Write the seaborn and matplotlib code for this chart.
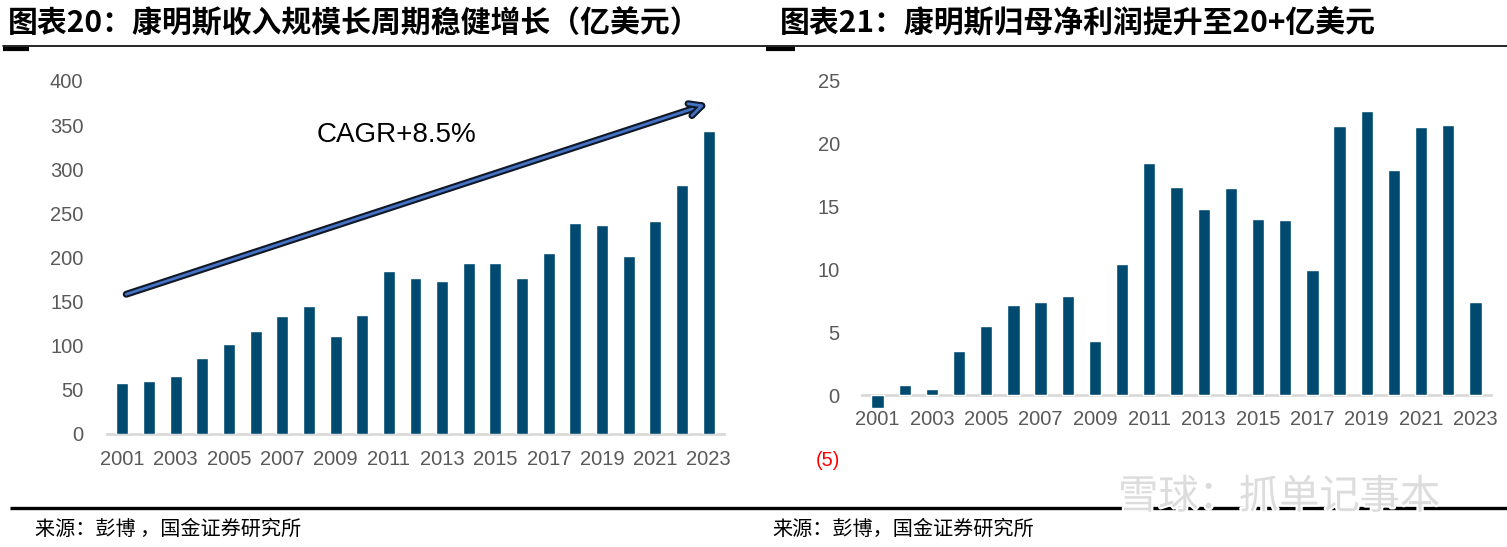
import matplotlib
matplotlib.use('Agg')
import matplotlib.pyplot as plt
import matplotlib.patheffects as pe
from matplotlib.lines import Line2D
from matplotlib.ticker import FixedLocator
import seaborn as sns
import pandas as pd

# ---------------- data ----------------
years = [str(y) for y in range(2001, 2024)]
revenue = [57, 60, 65, 86, 101, 116, 133, 145, 111, 135, 184, 176, 173,
           193, 193, 176, 205, 239, 237, 201, 241, 282, 343]
net_profit = [-1.0, 0.8, 0.5, 3.5, 5.5, 7.2, 7.4, 7.9, 4.3, 10.4, 18.5, 16.6,
              14.8, 16.5, 14.0, 13.9, 10.0, 21.4, 22.6, 17.9, 21.3, 21.5, 7.4]
left_yticks = [0, 50, 100, 150, 200, 250, 300, 350, 400]
right_yticks = [-5, 0, 5, 10, 15, 20, 25]
right_yticklabels = ['(5)', '0', '5', '10', '15', '20', '25']
title_left = '图表20：康明斯收入规模长周期稳健增长（亿美元）'
title_right = '图表21：康明斯归母净利润提升至20+亿美元'
source_left = '来源：彭博 ，国金证券研究所'
source_right = '来源：彭博，国金证券研究所'
cagr_text = 'CAGR+8.5%'
cagr_arrow = [(0.15, 158), (21.85, 373)]

df_rev = pd.DataFrame({'year': years, 'value': revenue})
df_np = pd.DataFrame({'year': years, 'value': net_profit})

# ---------------- style ----------------
sns.set_style('white')
plt.rcParams['font.family'] = ['Liberation Sans', 'Noto Sans CJK SC', 'DejaVu Sans']
CJK = ['Noto Sans CJK SC', 'DejaVu Sans']

BAR = '#004A70'
AXIS = '#D9D9D9'
TICKTXT = '#595959'

W, H = 1507, 547
fig = plt.figure(figsize=(W / 100, H / 100), dpi=100)


def fx(px):
    return px / W


def fy(py):
    return 1 - py / H


ax1 = fig.add_axes([fx(107), fy(433.5), fx(724) - fx(107), fy(81) - fy(433.5)])
ax2 = fig.add_axes([fx(862), fy(458), fx(1491) - fx(862), fy(81) - fy(458)])

sns.barplot(data=df_rev, x='year', y='value', ax=ax1, color=BAR,
            saturation=1, width=0.45, errorbar=None)
sns.barplot(data=df_np, x='year', y='value', ax=ax2, color=BAR,
            saturation=1, width=0.45, errorbar=None)

for ax in (ax1, ax2):
    ax.set_xlabel('')
    ax.set_ylabel('')
    for s in ('top', 'right', 'left'):
        ax.spines[s].set_visible(False)
    ax.spines['bottom'].set_color(AXIS)
    ax.spines['bottom'].set_linewidth(2.0)
    ax.spines['bottom'].set_zorder(0.5)
    n = len(years)
    ax.set_xlim(-0.57, n - 1 + 0.57)
    major = list(range(0, n, 2))
    ax.set_xticks(major, [years[i] for i in major])
    ax.xaxis.set_minor_locator(FixedLocator([i - 0.5 for i in range(n + 1)]))
    ax.tick_params(axis='x', which='major', length=0, labelsize=14.5,
                   labelcolor=TICKTXT)
    ax.tick_params(axis='x', which='minor', direction='in', length=5,
                   width=2.0, color=AXIS)
    ax.tick_params(axis='y', length=0, labelsize=14.5, labelcolor=TICKTXT)
    ax.patch.set_alpha(0)

ax1.set_ylim(0, 400)
ax1.set_yticks(left_yticks, [str(v) for v in left_yticks])
ax1.tick_params(axis='y', pad=17)
ax1.tick_params(axis='x', which='major', pad=12)

ax2.set_ylim(-5, 25)
ax2.spines['bottom'].set_position(('data', 0))
ax2.set_yticks(right_yticks, right_yticklabels)
ax2.tick_params(axis='y', pad=16)
ax2.tick_params(axis='x', which='major', pad=11)
for lbl in ax2.get_yticklabels():
    if lbl.get_text().startswith('('):
        lbl.set_color('#FF0000')

# CAGR arrow and label
ax1.annotate('', xy=cagr_arrow[1], xytext=cagr_arrow[0],
             arrowprops=dict(arrowstyle='->,head_length=0.9,head_width=0.45',
                             color='#4472C4', lw=2.0, shrinkA=0, shrinkB=0,
                             path_effects=[pe.Stroke(linewidth=5.0, foreground='#101828'),
                                           pe.Normal()]))
fig.text(fx(397), fy(135), cagr_text, fontsize=20, color='black',
         ha='center', va='center', family=['Liberation Sans', 'DejaVu Sans'])

# titles
fig.text(fx(8), fy(23), title_left, fontsize=21.5, fontweight='bold',
         ha='left', va='center', family=CJK, color='black')
fig.text(fx(780), fy(23), title_right, fontsize=21.5, fontweight='bold',
         ha='left', va='center', family=CJK, color='black')

# header / footer rules
fig.add_artist(Line2D([fx(3), fx(1507)], [fy(46), fy(46)], color='black', lw=1.2,
                      transform=fig.transFigure))
fig.add_artist(Line2D([fx(3), fx(29)], [fy(49), fy(49)], color='black', lw=3.0,
                      transform=fig.transFigure, solid_capstyle='butt'))
fig.add_artist(Line2D([fx(766), fx(795)], [fy(49), fy(49)], color='black', lw=3.0,
                      transform=fig.transFigure, solid_capstyle='butt'))
fig.add_artist(Line2D([fx(10), fx(1507)], [fy(508), fy(508)], color='black', lw=2.4,
                      transform=fig.transFigure, solid_capstyle='butt'))

# sources
fig.text(fx(35), fy(529), source_left, fontsize=14.5, ha='left', va='center',
         family=CJK, color='black')
fig.text(fx(772), fy(529), source_right, fontsize=14.5, ha='left', va='center',
         family=CJK, color='black')

# watermark
fig.text(fx(1118), fy(497), '雪球：抓单记事本', fontsize=29, ha='left', va='center',
         family=CJK, color='#DCDCDC', zorder=10,
         path_effects=[pe.Stroke(linewidth=3, foreground='white'), pe.Normal()])

fig.savefig('out.png', dpi=100)
